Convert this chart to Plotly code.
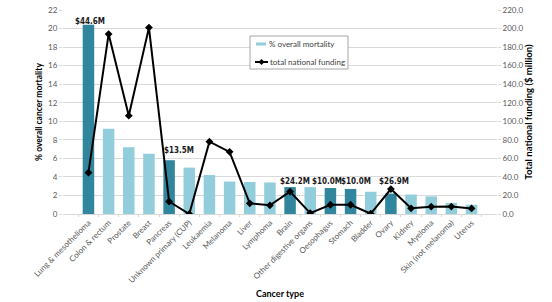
import plotly.graph_objects as go

categories = ["Lung & mesothelioma", "Colon & rectum", "Prostate", "Breast", "Pancreas",
              "Unknown primary (CUP)", "Leukaemia", "Melanoma", "Liver", "Lymphoma", "Brain",
              "Other digestive organs", "Oesophagus", "Stomach", "Bladder", "Ovary", "Kidney",
              "Myeloma", "Skin (not melanoma)", "Uterus"]
mortality = [20.4, 9.2, 7.2, 6.5, 5.8, 5.0, 4.2, 3.5, 3.45, 3.4, 2.9, 2.9, 2.8, 2.7, 2.4,
             2.2, 2.1, 1.9, 1.2, 1.0]
funding = [44.6, 194.0, 106.0, 201.0, 13.5, 0.0, 78.0, 67.0, 11.5, 9.4, 24.2, 1.0, 10.0,
           10.0, 0.3, 26.9, 6.1, 7.9, 8.0, 6.0]
highlight = ["Lung & mesothelioma", "Pancreas", "Brain", "Oesophagus", "Stomach", "Ovary"]
label_names = ["Lung & mesothelioma", "Pancreas", "Brain", "Oesophagus", "Stomach", "Ovary"]
label_texts = ["$44.6M", "$13.5M", "$24.2M", "$10.0M", "$10.0M", "$26.9M"]
label_levels = [20.8, 6.8, 3.5, 3.5, 3.5, 3.5]
label_shift = [2, 10, 5, -3, 5, 3]
legend_names = ["% overall mortality", "total national funding"]

DARK = "#31859c"
LIGHT = "#92cddc"
colors = [DARK if c in highlight else LIGHT for c in categories]
FONT = "Lato, 'DejaVu Sans', sans-serif"
LBLFONT = "'DejaVu Sans Condensed', 'Liberation Sans Narrow', sans-serif"

fig = go.Figure()
fig.add_trace(go.Bar(x=categories, y=mortality, marker_color=colors, marker_line_width=0,
                     name=legend_names[0], width=0.57, yaxis="y", showlegend=False))
fig.add_trace(go.Scatter(x=categories, y=funding, mode="lines+markers", name=legend_names[1],
                         line=dict(color="black", width=2),
                         marker=dict(symbol="diamond", size=6, color="black"), yaxis="y2",
                         showlegend=False))

for c, t, lv, sh in zip(label_names, label_texts, label_levels, label_shift):
    fig.add_annotation(x=c, y=lv, yref="y", text="<b>" + t + "</b>", showarrow=False,
                       yanchor="middle", xshift=sh,
                       font=dict(size=8, color="#1a1a1a", family=LBLFONT))

# manual legend (paper coordinates)
def px(x):
    return (x - 63) / 434

def py(y):
    return (214 - y) / 204

fig.add_shape(type="rect", xref="paper", yref="paper", x0=px(250), x1=px(348), y0=py(69), y1=py(36),
              line=dict(color="#a6a6a6", width=1), fillcolor="white", layer="above")
fig.add_shape(type="rect", xref="paper", yref="paper", x0=px(256), x1=px(266), y0=py(45.5), y1=py(42.5),
              line=dict(width=0), fillcolor=LIGHT, layer="above")
fig.add_shape(type="line", xref="paper", yref="paper", x0=px(255), x1=px(268), y0=py(62), y1=py(62),
              line=dict(color="black", width=2), layer="above")
fig.add_shape(type="path", xref="paper", yref="paper", layer="above",
              path=f"M {px(261.5)} {py(59)} L {px(264.5)} {py(62)} L {px(261.5)} {py(65)} L {px(258.5)} {py(62)} Z",
              fillcolor="black", line=dict(width=0))
fig.add_annotation(xref="paper", yref="paper", x=px(266.5), y=py(44), text=legend_names[0],
                   showarrow=False, xanchor="left", yanchor="middle",
                   font=dict(size=8, color="#404040", family=FONT))
fig.add_annotation(xref="paper", yref="paper", x=px(268), y=py(62), text=legend_names[1],
                   showarrow=False, xanchor="left", yanchor="middle",
                   font=dict(size=8, color="#404040", family=FONT))

fig.update_layout(
    width=552, height=302, margin=dict(l=63, r=55, t=10, b=88),
    plot_bgcolor="white", paper_bgcolor="white", bargap=0.43,
    font=dict(family=FONT, size=8, color="#595959"),
    showlegend=False,
    xaxis=dict(tickangle=-45, tickfont=dict(size=8, color="#595959"), showgrid=False,
               showline=True, linecolor="#d9d9d9", ticks="outside", ticklen=2,
               tickcolor="#e6d2c0", tickson="boundaries", automargin=False,
               title=dict(text="<b>Cancer type</b>", font=dict(size=9, color="black"), standoff=6)),
    yaxis=dict(range=[0, 22], dtick=2, showgrid=True, gridcolor="#d9d9d9", showline=False,
               ticks="outside", ticklen=3, tickcolor="#d9d9d9", zeroline=False, automargin=False,
               tickfont=dict(size=8, color="#595959"),
               title=dict(text="<b>% overall cancer mortality</b>", font=dict(size=8.5, color="black"),
                          standoff=4)),
    yaxis2=dict(range=[0, 220], dtick=20, overlaying="y", side="right", showgrid=False,
                tickformat=".1f", ticks="outside", ticklen=3, tickcolor="#d9d9d9", zeroline=False,
                showline=False, automargin=False,
                tickfont=dict(size=8, color="#595959"),
                title=dict(text="<b>Total national funding ($ million)</b>",
                           font=dict(size=9.5, color="black"), standoff=2)),
)
fig.write_html("out.html")
